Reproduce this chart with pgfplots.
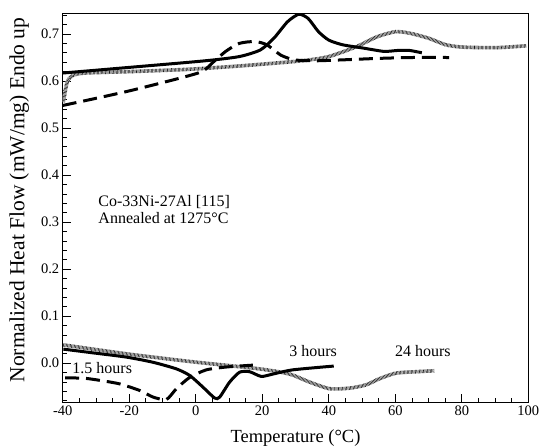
\documentclass[border=0pt]{standalone}
\usepackage{fontspec}
\setmainfont{Liberation Serif}
\usepackage{pgfplots}
\usepackage{pgfplotstable}
\pgfplotsset{compat=1.18}

% 24 hours curves (gray hatched line)
\pgfplotstableread{
x y
-39.8 0.555
-39.6 0.564
-38.6 0.599
-37.0 0.612
-33.4 0.617
-20.0 0.620
-5.0 0.624
2.8 0.627
15.0 0.633
31.8 0.643
40.0 0.652
48.3 0.673
54.5 0.694
60.2 0.705
64.8 0.701
70.0 0.691
75.2 0.677
80.4 0.672
90.7 0.671
99.5 0.675
}\dayup
\pgfplotstableread{
x y
-39.8 0.039
-20.8 0.020
-0.8 0.003
19.2 -0.012
28.2 -0.023
34.2 -0.040
40.2 -0.054
46.2 -0.053
51.2 -0.046
55.2 -0.033
60.2 -0.021
66.2 -0.018
71.7 -0.016
}\daydown

\begin{document}
\begin{tikzpicture}
\begin{axis}[
  name=ax,
  scale only axis,
  width=465.6pt, height=389pt,
  xmin=-40, xmax=100, ymin=-0.083, ymax=0.744,
  axis line style={line width=0.9pt},
  tick align=inside,
  xtick pos=bottom, ytick pos=left,
  xtick={-40,-20,0,20,40,60,80,100},
  xticklabels={-40,-20,0,20,40,60,80,100},
  minor xtick={-35,-30,-25,-15,-10,-5,5,10,15,25,30,35,45,50,55,65,70,75,85,90,95},
  ytick={0,0.1,0.2,0.3,0.4,0.5,0.6,0.7},
  yticklabels={0.0,0.1,0.2,0.3,0.4,0.5,0.6,0.7},
  minor ytick={-0.08,-0.06,-0.04,-0.02,0.02,0.04,0.06,0.08,0.12,0.14,0.16,0.18,0.22,0.24,0.26,0.28,0.32,0.34,0.36,0.38,0.42,0.44,0.46,0.48,0.52,0.54,0.56,0.58,0.62,0.64,0.66,0.68,0.72,0.74},
  major tick length=8.5pt, minor tick length=4pt,
  every tick/.style={black, line width=0.8pt},
  tick label style={font=\rmfamily\fontsize{14.5}{17}\selectfont},
  xlabel={Temperature (°C)},
  ylabel={Normalized Heat Flow (mW/mg) Endo up},
  xlabel style={at={(axis description cs:0.5,-0.091)}, anchor=center, font=\fontsize{18.5}{20}\selectfont},
  ylabel style={at={(axis description cs:-0.0935,0.52)}, anchor=center, font=\fontsize{21.5}{24}\selectfont},
]
% 24 hours
\addplot[gray!20, line width=3.6pt, smooth, tension=0.4,
  postaction={draw, black!90, line width=3.6pt, dash pattern=on 0.55pt off 0.8pt}] table {\dayup};
\addplot[gray!20, line width=3.6pt, smooth, tension=0.4,
  postaction={draw, black!90, line width=3.6pt, dash pattern=on 0.55pt off 0.8pt}] table {\daydown};
% 1.5 hours
\addplot[black, line width=3pt, dash pattern=on 14pt off 7pt, smooth, tension=0.4] coordinates {
(-40,0.548)(-20,0.579)(0.7,0.617)(4.9,0.638)(9.0,0.663)(13.1,0.680)(17.8,0.684)
(21.4,0.677)(25.6,0.655)(29.7,0.645)(35.9,0.643)(44.2,0.645)(54.5,0.648)(64.9,0.650)(76.2,0.650)
};
\addplot[black, line width=3pt, dash pattern=on 14pt off 7pt, smooth, tension=0.4] coordinates {
(-39.3,-0.031)(-33.3,-0.032)(-28.3,-0.037)(-22.8,-0.044)(-16.8,-0.058)(-12.8,-0.072)
(-8.8,-0.077)(-5.8,-0.054)(-1.8,-0.030)(3.2,-0.014)(9.2,-0.008)(17.2,-0.004)
};
% 3 hours
\addplot[black, line width=3pt, smooth, tension=0.4] coordinates {
(-40,0.617)(-20,0.629)(2.8,0.643)(13.1,0.652)(19.4,0.666)(23.5,0.691)(27.6,0.726)
(31.0,0.742)(33.8,0.733)(36.9,0.705)(40,0.687)(44.2,0.677)(50.4,0.670)(56.6,0.663)
(60.7,0.665)(64.3,0.665)(68,0.660)
};
\addplot[black, line width=3pt, smooth, tension=0.4] coordinates {
(-39.8,0.030)(-30.8,0.022)(-20.8,0.013)(-12.8,0.002)(-5.8,-0.012)(-1.8,-0.026)
(2.2,-0.051)(5.7,-0.074)(7.2,-0.072)(10.2,-0.040)(13.2,-0.019)(16.2,-0.018)
(19.7,-0.028)(23.2,-0.023)(29.2,-0.014)(41.5,-0.006)
};
\node[font=\fontsize{16}{17.3}\selectfont, anchor=west, align=left] at (axis cs:-30.3,0.327)
  {Co-33Ni-27Al [115]\\Annealed at 1275°C};
\node[font=\fontsize{16}{18}\selectfont] at (axis cs:-28.1,-0.011) {1.5 hours};
\node[font=\fontsize{16}{18}\selectfont] at (axis cs:35.3,0.025) {3 hours};
\node[font=\fontsize{16}{18}\selectfont] at (axis cs:68.3,0.025) {24 hours};
\end{axis}
\pgfresetboundingbox
\path ([xshift=-62.7pt,yshift=-45.5pt]ax.south west) rectangle ([xshift=10.7pt,yshift=13.3pt]ax.north east);
\end{tikzpicture}
\end{document}
